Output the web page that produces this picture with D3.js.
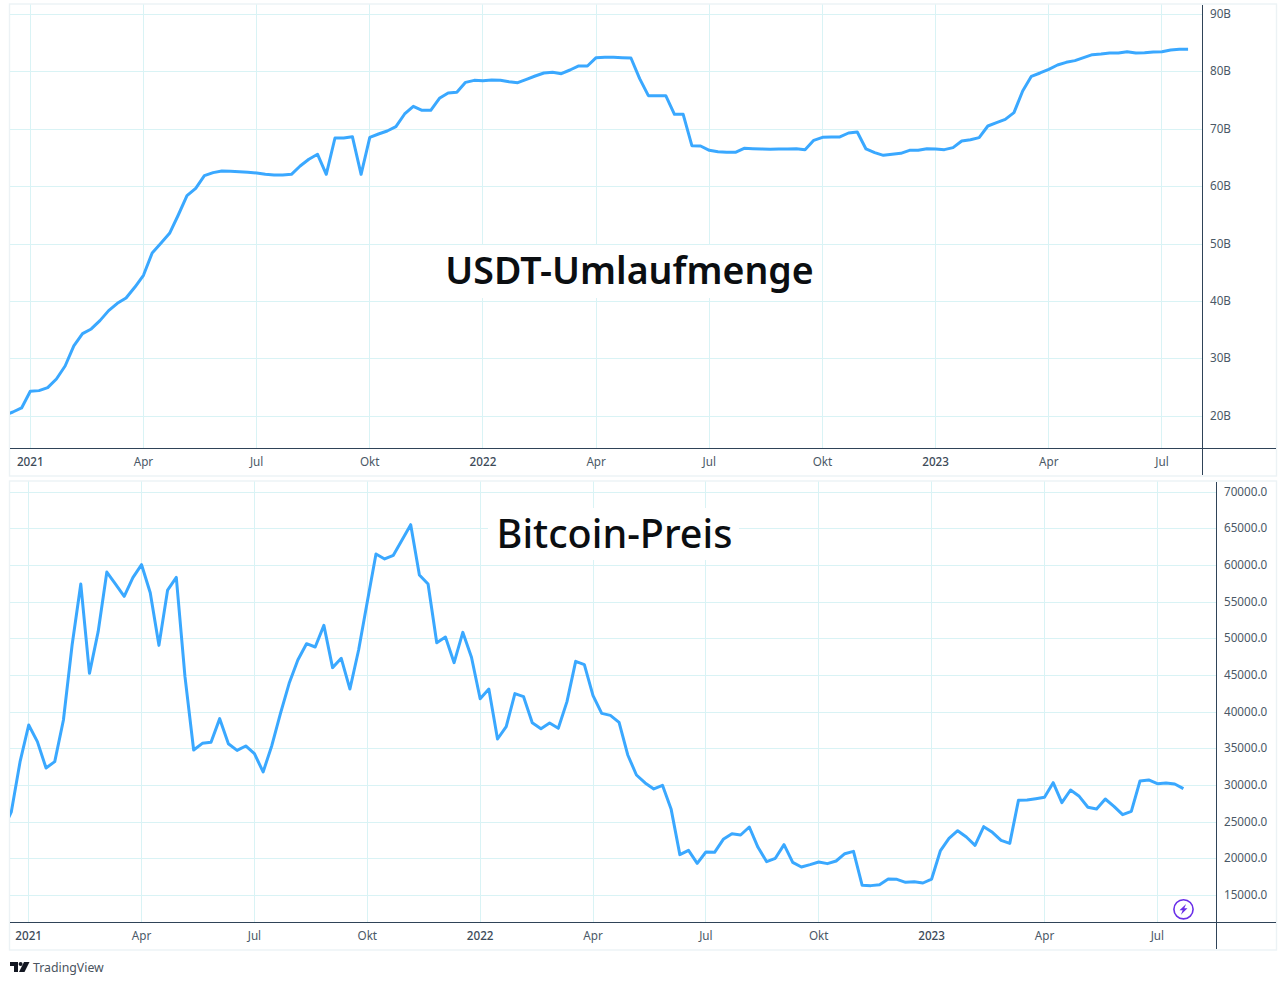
<!DOCTYPE html>
<html><head><meta charset="utf-8">
<script src="https://cdn.jsdelivr.net/npm/d3@7"></script>
<style>html,body{margin:0;padding:0;background:#fff}svg{display:block}text{font-family:"Noto Sans",sans-serif}</style>
</head><body><svg id="c" width="1286" height="985"></svg>
<script>
// week index 0 = first week of 2021; both series start three weeks earlier
const firstWeek = -3;
const usdtValues = [20.2,20.75,21.45,24.35,24.47,24.99,26.50,28.76,32.25,34.39,35.21,36.66,38.40,39.67,40.60,42.46,44.55,48.44,50.12,51.86,55.05,58.42,59.70,61.90,62.43,62.72,62.66,62.60,62.48,62.37,62.14,62.02,62.02,62.14,63.59,64.75,65.62,62.14,68.46,68.46,68.69,62.14,68.58,69.16,69.68,70.44,72.64,73.98,73.28,73.28,75.37,76.30,76.41,78.15,78.50,78.44,78.56,78.50,78.27,78.10,78.68,79.26,79.78,79.90,79.66,80.30,81.00,81.00,82.45,82.51,82.51,82.45,82.39,78.79,75.83,75.83,75.83,72.58,72.58,67.13,67.07,66.31,66.08,65.97,65.97,66.66,66.60,66.55,66.49,66.55,66.55,66.60,66.43,68.06,68.58,68.64,68.64,69.33,69.51,66.55,65.91,65.44,65.62,65.79,66.31,66.31,66.60,66.55,66.43,66.78,67.94,68.17,68.52,70.55,71.13,71.71,72.87,76.65,79.20,79.78,80.42,81.17,81.64,81.93,82.45,82.97,83.09,83.26,83.26,83.49,83.26,83.32,83.44,83.49,83.78,83.90,83.90];
const btcValues = [23800,26400,33200,38240,35970,32370,33240,38920,49160,57480,45290,50980,59120,57480,55800,58350,60120,56300,49110,56660,58390,44840,34830,35740,35880,39110,35690,34780,35380,34330,31830,35420,39830,43930,47110,49340,48890,51840,46070,47340,43150,48480,55070,61580,60900,61400,63490,65580,58710,57480,49480,50250,46750,50890,47480,41830,43150,36330,38010,42520,42110,38560,37740,38510,37790,41430,46930,46480,42240,39830,39560,38610,34150,31420,30330,29510,30010,26730,20550,21140,19360,20910,20860,22640,23410,23230,24320,21550,19590,20050,21910,19500,18860,19180,19540,19320,19680,20680,21000,16360,16320,16450,17220,17180,16770,16860,16680,17220,21050,22770,23820,22960,21820,24370,23590,22500,22090,27960,28000,28190,28370,30370,27640,29370,28510,27010,26780,28140,27140,26000,26460,30600,30740,30240,30330,30190,29550];
const monthTickWeeks = [0,13,26,39,52,65,78,91,104,117,130];
const monthTickLabels = ["2021","Apr","Jul","Okt","2022","Apr","Jul","Okt","2023","Apr","Jul"];
const usdtTicks = [20,30,40,50,60,70,80,90];
const btcTicks = [15000,20000,25000,30000,35000,40000,45000,50000,55000,60000,65000,70000];
const titleTop = "USDT-Umlaufmenge";
const titleBottom = "Bitcoin-Preis";
const brand = "TradingView";

const GRID="#d9f3f5", AXIS="#2f4358", LINE="#3aa8ff", TXT="#4a5866", FRAME="#ecf2f5";
const svg=d3.select("#c");
const panels=[
 {id:"a",top:4.5,bottom:475.5,axisX:1202.5,axisY:448.5,x0:30.3,step:8.705,
  yDomain:[20,90],yRange:[416.3,14.3],values:usdtValues,ticks:usdtTicks,fmt:d=>d+"B",labelX:1210,
  title:titleTop,titleX:629.5,titleY:284,titleSize:37.5,titleWeight:600,mask:[432,245,388,53]},
 {id:"b",top:481.5,bottom:949.5,axisX:1216.5,axisY:922.5,x0:28.7,step:8.682,
  yDomain:[15000,70000],yRange:[895.3,492.3],values:btcValues,ticks:btcTicks,fmt:d=>d3.format(".1f")(d),labelX:1224,
  title:titleBottom,titleX:614.5,titleY:548,titleSize:39.5,titleWeight:500,mask:[488,508,251,52]}
];
panels.forEach(p=>{
 const g=svg.append("g");
 const x=d3.scaleLinear().domain([0,1]).range([p.x0,p.x0+p.step]);
 const y=d3.scaleLinear().domain(p.yDomain).range(p.yRange);
 const left=10, right=1276;
 const crisp=v=>Math.round(v-0.5)+0.5;
 // frame
 g.append("rect").attr("x",9.5).attr("y",p.top-.5).attr("width",1267).attr("height",p.bottom-p.top+1)
  .attr("fill","#fff").attr("stroke",FRAME).attr("stroke-width",1.4);
 // grid
 g.append("g").selectAll("line").data(p.ticks).join("line")
  .attr("x1",left).attr("x2",p.axisX).attr("y1",d=>crisp(y(d))).attr("y2",d=>crisp(y(d)))
  .attr("stroke",GRID).attr("stroke-width",1);
 g.append("g").selectAll("line").data(monthTickWeeks).join("line")
  .attr("x1",d=>crisp(x(d))).attr("x2",d=>crisp(x(d))).attr("y1",p.top).attr("y2",p.axisY)
  .attr("stroke",GRID).attr("stroke-width",1);
 // title background
 g.append("rect").attr("x",p.mask[0]).attr("y",p.mask[1]).attr("width",p.mask[2]).attr("height",p.mask[3]).attr("fill","#fff");
 // line
 const clip="clip-"+p.id;
 svg.append("defs").append("clipPath").attr("id",clip).append("rect")
  .attr("x",left).attr("y",p.top).attr("width",p.axisX-left).attr("height",p.axisY-p.top);
 const line=d3.line().x((d,i)=>x(firstWeek+i)).y(d=>y(d)).curve(d3.curveLinear);
 g.append("path").datum(p.values).attr("d",line).attr("fill","none").attr("stroke",LINE)
  .attr("stroke-width",3).attr("stroke-linejoin","round").attr("stroke-linecap","butt").attr("clip-path",`url(#${clip})`);
 // axes
 g.append("line").attr("x1",left).attr("x2",right).attr("y1",p.axisY).attr("y2",p.axisY).attr("stroke",AXIS).attr("stroke-width",1);
 g.append("line").attr("x1",p.axisX).attr("x2",p.axisX).attr("y1",p.top+.5).attr("y2",p.bottom-.5).attr("stroke",AXIS).attr("stroke-width",1);
 // y labels
 g.append("g").selectAll("text").data(p.ticks).join("text")
  .attr("x",p.labelX).attr("y",d=>crisp(y(d))+3.4).attr("font-size",11.7).attr("fill",TXT).text(p.fmt);
 // x labels
 g.append("g").selectAll("text").data(monthTickWeeks).join("text")
  .attr("x",d=>x(d)).attr("y",p.axisY+17.5).attr("text-anchor","middle").attr("font-size",11.7)
  .attr("fill",(d,i)=>/^\d/.test(monthTickLabels[i])?"#3c4a58":TXT)
  .attr("font-weight",(d,i)=>/^\d/.test(monthTickLabels[i])?500:400)
  .text((d,i)=>monthTickLabels[i]);
 // title
 g.append("text").attr("x",p.titleX).attr("y",p.titleY).attr("text-anchor","middle").attr("font-size",p.titleSize)
  .attr("font-weight",p.titleWeight).attr("fill","#0b0e11").text(p.title);
});
// bolt badge
const badge=svg.append("g").attr("transform","translate(1183.5,909.3)");
badge.append("circle").attr("r",9.6).attr("fill","#fff").attr("stroke","#6a2fe8").attr("stroke-width",1.6);
badge.append("path").attr("d","M2.6,-5.4 L-4,1 L-0.8,1 L-2.6,5.4 L4,-1 L0.8,-1 Z").attr("fill","#6a2fe8");
// brand
const logo=svg.append("g").attr("transform","translate(10,962)").attr("fill","#131722");
logo.append("path").attr("d","M0,0 H8 V10 H4 V4 H0 Z");
logo.append("circle").attr("cx",10.6).attr("cy",2).attr("r",2);
logo.append("path").attr("d","M14,0 H19.5 L14.5,10 H9 Z");
svg.append("text").attr("x",33).attr("y",971.5).attr("font-size",12.3).attr("fill","#4a5460").text(brand);
</script></body></html>
